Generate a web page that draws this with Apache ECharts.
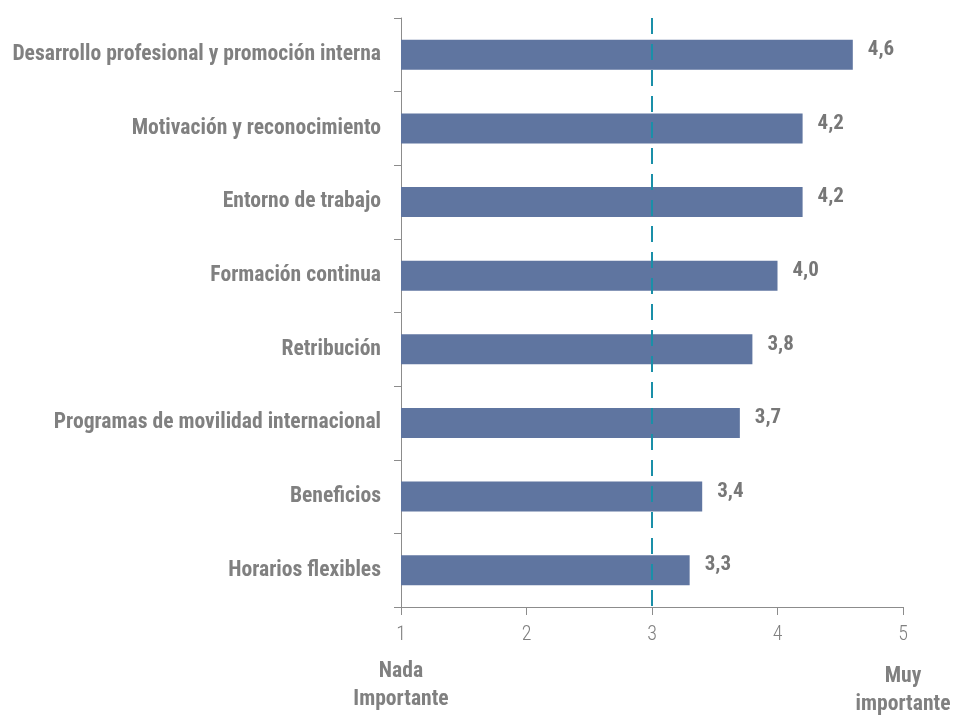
<!DOCTYPE html>
<html>
<head>
<meta charset="utf-8">
<script src="https://cdn.jsdelivr.net/npm/echarts@6/dist/echarts.min.js"></script>
<style>
  html, body { margin: 0; padding: 0; background: #fff; }
  #chart { width: 960px; height: 715px; }
</style>
</head>
<body>
<div id="chart"></div>
<script>
// Factores valorados (de arriba abajo) y su puntuación media (escala 1-5)
const categories = [
  'Desarrollo profesional y promoción interna',
  'Motivación y reconocimiento',
  'Entorno de trabajo',
  'Formación continua',
  'Retribución',
  'Programas de movilidad internacional',
  'Beneficios',
  'Horarios flexibles'
];
const scores = [4.6, 4.2, 4.2, 4.0, 3.8, 3.7, 3.4, 3.3];
const scaleTicks = [1, 2, 3, 4, 5];
const midpoint = 3;
const lowEndText = 'Nada\nImportante';
const highEndText = 'Muy\nimportante';

const FONT = 'Roboto, "DejaVu Sans Condensed", sans-serif';
const GREY = '#808080';
const BAR = '#5f75a0';

const chart = echarts.init(document.getElementById('chart'));

chart.setOption({
  backgroundColor: '#fff',
  animation: false,
  grid: { left: 401, right: 57, top: 18, bottom: 108, containLabel: false, outerBoundsMode: 'none' },
  xAxis: {
    type: 'value',
    min: scaleTicks[0],
    max: scaleTicks[scaleTicks.length - 1],
    interval: 1,
    splitLine: { show: false },
    axisLine: { show: true, lineStyle: { color: '#8c8c8c', width: 1 } },
    axisTick: { show: true, length: 8, lineStyle: { color: '#8c8c8c' } },
    axisLabel: {
      margin: 18,
      color: GREY,
      fontFamily: FONT,
      fontWeight: '300 condensed',
      fontSize: 20,
      formatter: v => String(v)
    }
  },
  yAxis: {
    type: 'category',
    data: categories,
    inverse: true,
    axisLine: { show: true, lineStyle: { color: '#8c8c8c', width: 1 } },
    axisTick: { show: true, length: 7, lineStyle: { color: '#8c8c8c' } },
    axisLabel: {
      margin: 20,
      color: GREY,
      fontFamily: FONT,
      fontWeight: 'bold condensed',
      fontSize: 21.6
    }
  },
  series: [{
    type: 'bar',
    data: scores,
    barWidth: 30,
    itemStyle: { color: BAR },
    label: {
      show: true,
      position: 'right',
      distance: 15,
      offset: [0, -5],
      color: '#777777',
      fontFamily: FONT,
      fontWeight: 'bold condensed',
      fontSize: 21,
      formatter: p => p.value.toFixed(1).replace('.', ',')
    },
    markLine: {
      silent: true,
      symbol: ['none', 'none'],
      label: { show: false },
      lineStyle: { color: '#1a8fa8', width: 2, type: [16, 10] },
      data: [{ xAxis: midpoint }]
    }
  }],
  graphic: [
    {
      type: 'text',
      x: 401, y: 658,
      style: {
        text: lowEndText, align: 'center',
        fill: GREY, font: 'bold condensed 21.6px ' + FONT, lineHeight: 28
      }
    },
    {
      type: 'text',
      x: 903, y: 663,
      style: {
        text: highEndText, align: 'center',
        fill: GREY, font: 'bold condensed 21.6px ' + FONT, lineHeight: 28
      }
    }
  ]
});
</script>
</body>
</html>
